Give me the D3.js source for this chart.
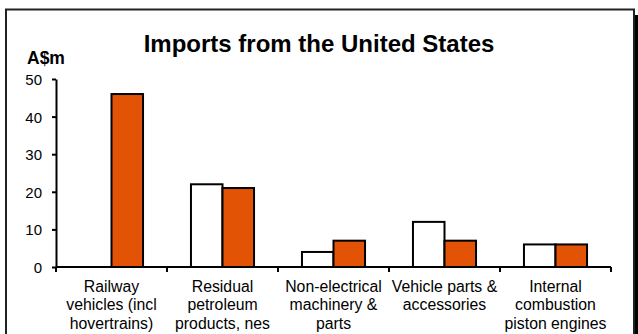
<!DOCTYPE html>
<html>
<head>
<meta charset="utf-8">
<script src="https://cdn.jsdelivr.net/npm/d3@7"></script>
<style>
  body { margin: 0; background: #fff; }
  svg { display: block; font-family: "Liberation Sans", Arial, sans-serif; }
  .axis path, .axis line { stroke: #000; stroke-width: 2px; }
  .axis text { font-size: 15px; fill: #000; }
  .axis .lbl { font-size: 15.8px; }
</style>
</head>
<body>
<div id="chart"></div>
<script>
var categories = [
  ['Railway', 'vehicles (incl', 'hovertrains)'],
  ['Residual', 'petroleum', 'products, nes'],
  ['Non-electrical', 'machinery &', 'parts'],
  ['Vehicle parts &', 'accessories'],
  ['Internal', 'combustion', 'piston engines']
];
var seriesNames = ['earlier', 'later'];
var earlierValues = [0, 22, 4, 12, 6];
var laterValues = [46, 21, 7, 7, 6];
var yTicks = [0, 10, 20, 30, 40, 50];

var W = 638, H = 334;
var svg = d3.select('#chart').append('svg')
  .attr('width', W)
  .attr('height', H);

// frame with shadow
svg.append('rect')
  .attr('x', 634).attr('y', 15)
  .attr('width', 5).attr('height', H)
  .attr('fill', '#000');
svg.append('rect')
  .attr('x', 6).attr('y', 9.5)
  .attr('width', 628).attr('height', H)
  .attr('fill', '#fff')
  .attr('stroke', '#222')
  .attr('stroke-width', 2);

var keys = categories.map(function(d) { return d.join(' '); });

var x = d3.scaleBand().domain(keys).range([56, 611]).padding(0);
var x1 = d3.scaleBand().domain(seriesNames).range([0, x.bandwidth()])
  .paddingInner(0).paddingOuter(0.76);
var y = d3.scaleLinear().domain([0, 50]).range([267, 79]);

var data = keys.map(function(k, i) {
  return { key: k, values: [
    { s: seriesNames[0], v: earlierValues[i], fill: '#fff' },
    { s: seriesNames[1], v: laterValues[i], fill: '#E25305' }
  ]};
});

var groups = svg.selectAll('.cat')
  .data(data)
  .enter().append('g')
  .attr('class', 'cat')
  .attr('transform', function(d) { return 'translate(' + x(d.key) + ',0)'; });

groups.selectAll('rect')
  .data(function(d) { return d.values.filter(function(e) { return e.v > 0; }); })
  .enter().append('rect')
  .attr('x', function(d) { return x1(d.s); })
  .attr('y', function(d) { return y(d.v); })
  .attr('width', x1.bandwidth())
  .attr('height', function(d) { return y(0) - y(d.v); })
  .attr('fill', function(d) { return d.fill; })
  .attr('stroke', '#000')
  .attr('stroke-width', 2);

// y axis
svg.append('g')
  .attr('class', 'axis')
  .attr('transform', 'translate(56,0)')
  .call(d3.axisLeft(y).tickValues(yTicks).tickSize(4).tickSizeOuter(0).tickPadding(10))
  .call(function(g) { g.selectAll('text').attr('dy', '0.36em'); });

// x axis
var xAxis = svg.append('g')
  .attr('class', 'axis')
  .attr('transform', 'translate(0,' + y(0) + ')');
xAxis.append('line')
  .attr('x1', x.range()[0]).attr('x2', x.range()[1]);
var bounds = keys.map(function(k) { return x(k); }).concat([x.range()[1]]);
xAxis.selectAll('.sep')
  .data(bounds)
  .enter().append('line')
  .attr('class', 'sep')
  .attr('x1', function(d) { return d; })
  .attr('x2', function(d) { return d; })
  .attr('y1', 0).attr('y2', 5);

var labels = xAxis.selectAll('.lbl')
  .data(categories)
  .enter().append('text')
  .attr('class', 'lbl')
  .attr('text-anchor', 'middle')
  .attr('x', function(d, i) { return x(keys[i]) + x.bandwidth() / 2; })
  .attr('y', 25);
labels.selectAll('tspan')
  .data(function(d) { return d; })
  .enter().append('tspan')
  .attr('x', function() { return d3.select(this.parentNode).attr('x'); })
  .attr('dy', function(d, i) { return i === 0 ? 0 : 18.3; })
  .text(function(d) { return d; });

svg.append('text')
  .attr('x', 319).attr('y', 52)
  .attr('text-anchor', 'middle')
  .attr('font-size', 24)
  .attr('font-weight', 'bold')
  .text('Imports from the United States');

svg.append('text')
  .attr('x', 27).attr('y', 64)
  .attr('font-size', 17.5)
  .attr('font-weight', 'bold')
  .text('A$m');
</script>
</body>
</html>
